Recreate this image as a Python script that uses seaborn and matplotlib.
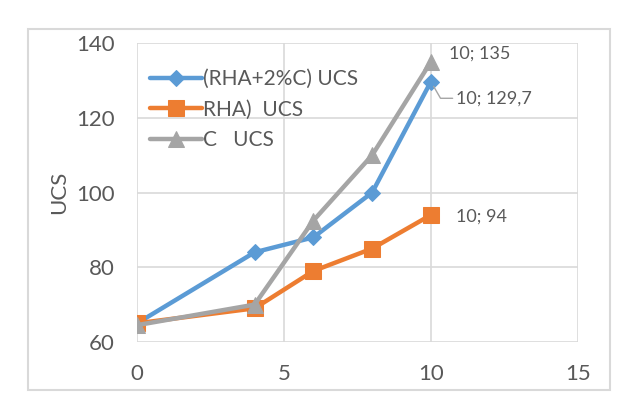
import matplotlib
matplotlib.use("Agg")
import matplotlib.pyplot as plt
import seaborn as sns
import pandas as pd
from matplotlib.patches import Rectangle

x_vals = [0, 4, 6, 8, 10]
blue_vals = [65, 84, 88, 100, 129.7]
orange_vals = [65, 69, 79, 85, 94]
gray_vals = [64.5, 70, 92.5, 110, 135]
series_names = ["(RHA+2%C) UCS", "RHA)  UCS", "C   UCS"]
x_ticks = [0, 5, 10, 15]
y_ticks = [60, 80, 100, 120, 140]

rows = []
for name, vals in zip(series_names, [blue_vals, orange_vals, gray_vals]):
    for xv, yv in zip(x_vals, vals):
        rows.append({"x": xv, "y": yv, "series": name})
df = pd.DataFrame(rows)

sns.set_theme(style="white")
plt.rcParams['font.family'] = ['Lato', 'DejaVu Sans']

fig = plt.figure(figsize=(6.26, 4.11), dpi=100)
ax = fig.add_axes([0.219, 0.168, 0.704, 0.727])

colors = {series_names[0]: "#5B9BD5", series_names[1]: "#ED7D31", series_names[2]: "#A5A5A5"}
markers = {series_names[0]: "D", series_names[1]: "s", series_names[2]: "^"}
msizes = {series_names[0]: 8, series_names[1]: 11, series_names[2]: 11}

for name in series_names:
    sub = df[df["series"] == name]
    sns.lineplot(data=sub, x="x", y="y", ax=ax, color=colors[name], marker=markers[name],
                 markersize=msizes[name], markeredgecolor=colors[name], linewidth=3.2,
                 label=name, estimator=None, sort=False)

ax.set_xlim(0, 15)
ax.set_ylim(60, 140)
ax.set_xticks(x_ticks)
ax.set_yticks(y_ticks)
ax.grid(True, color="#D9D9D9", linewidth=1.2)
ax.set_axisbelow(True)
for s in ["top", "right", "left", "bottom"]:
    ax.spines[s].set_visible(False)
ax.tick_params(axis="y", length=0, labelsize=16, colors="#595959", pad=16)
ax.tick_params(axis="x", length=0, labelsize=16, colors="#595959", pad=16)
ax.set_xlabel("")
ax.set_ylabel("UCS", fontsize=16, color="#595959")
ax.yaxis.set_label_coords(-0.155, 0.5)

leg = ax.legend(loc="upper left", bbox_to_anchor=(0.0, 0.955), frameon=False, fontsize=15,
                labelcolor="#595959", handlelength=2.5, handletextpad=0.05,
                labelspacing=0.5, borderaxespad=0.2)

ann_color = "#595959"
ax.annotate("10; 135", xy=(x_vals[-1], gray_vals[-1]), xytext=(13, 0), textcoords="offset points",
            fontsize=13, color=ann_color, va="bottom", ha="left")
ax.annotate("10; 129,7", xy=(x_vals[-1], blue_vals[-1]), xytext=(18, -12), textcoords="offset points",
            fontsize=13, color=ann_color, va="center", ha="left",
            arrowprops=dict(arrowstyle="-", color="#A5A5A5", lw=1, shrinkA=0, shrinkB=4,
                            connectionstyle="angle,angleA=0,angleB=-60,rad=0"))
ax.annotate("10; 94", xy=(x_vals[-1], orange_vals[-1]), xytext=(18, -1), textcoords="offset points",
            fontsize=13, color=ann_color, va="center", ha="left")

fig.patches.append(Rectangle((0.045, 0.05), 0.93, 0.88, transform=fig.transFigure,
                             fill=False, edgecolor="#D9D9D9", linewidth=1.5))

fig.savefig("out.png", dpi=100)
